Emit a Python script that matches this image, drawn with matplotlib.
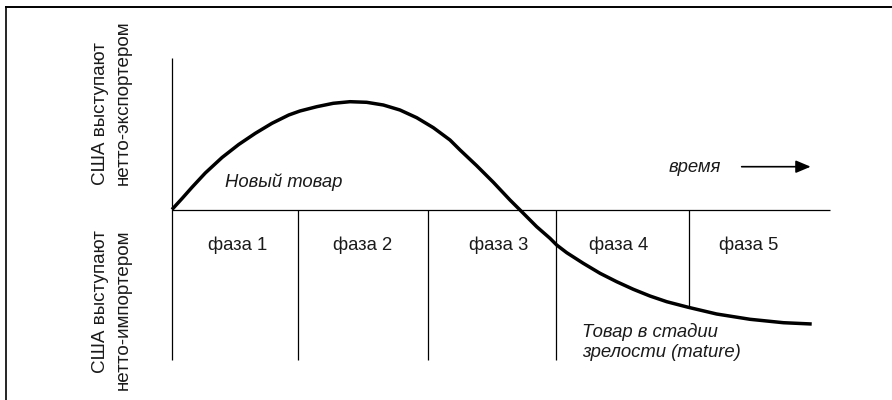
import matplotlib
matplotlib.use("Agg")
import matplotlib.pyplot as plt
from matplotlib.lines import Line2D

plt.rcParams['font.family'] = ['Liberation Sans', 'DejaVu Sans']

# Curve: net exports of the US over time (time in phase units, y in arbitrary units)
curve_x = [0.000, 0.078, 0.155, 0.258, 0.388, 0.517, 0.646, 0.775, 0.905, 0.992,
           1.122, 1.250, 1.380, 1.509, 1.638, 1.767, 1.897, 2.026, 2.155, 2.233,
           2.362, 2.491, 2.620, 2.698, 2.827, 2.930, 2.982, 3.060, 3.188, 3.318,
           3.447, 3.576, 3.705, 3.835, 4.002, 4.222, 4.481, 4.739, 4.959]
curve_y = [0.000, 0.110, 0.222, 0.365, 0.520, 0.650, 0.762, 0.862, 0.945, 0.985,
           1.028, 1.062, 1.078, 1.072, 1.045, 0.995, 0.918, 0.818, 0.695, 0.595,
           0.438, 0.272, 0.095, -0.005, -0.172, -0.288, -0.355, -0.432, -0.538, -0.638,
           -0.722, -0.798, -0.865, -0.922, -0.978, -1.045, -1.098, -1.132, -1.145]

# Phase boundaries and labels
phase_bounds = [0.977, 1.984, 2.977]
phase5_bound = 4.010
phase_labels = ["фаза 1", "фаза 2", "фаза 3", "фаза 4", "фаза 5"]
phase_label_x = [0.508, 1.481, 2.529, 3.460, 4.467]

y_top_labels = ["США выступают", "нетто-экспортером"]
y_bottom_labels = ["США выступают", "нетто-импортером"]
new_label = "Новый товар"
mature_labels = ["Товар в стадии", "зрелости (mature)"]
time_label = "время"

W, H = 892, 400
fig = plt.figure(figsize=(W / 100, H / 100), dpi=100)
ax = fig.add_axes([0, 0, 1, 1])
ax.set_xlim(-172 / 129, (W - 172) / 129)
ax.set_ylim((209.5 - H) / 100, 209.5 / 100)
ax.axis('off')

txt = '#1a1a1a'
fs = 13.3
fs_y = 13.6

# axes lines
ax.plot([0, 0], [-1.505, 1.515], color='black', lw=0.9, solid_capstyle='butt')
ax.plot([0, 5.10], [0, 0], color='black', lw=0.9, solid_capstyle='butt')
for b in phase_bounds:
    ax.plot([b, b], [0, -1.505], color='black', lw=0.9, solid_capstyle='butt')
ax.plot([phase5_bound, phase5_bound], [0, -0.978], color='black', lw=0.9,
        solid_capstyle='butt')

# curve
ax.plot(curve_x, curve_y, color='black', lw=2.5, solid_joinstyle='round',
        solid_capstyle='butt')

# phase labels
for lx, lab in zip(phase_label_x, phase_labels):
    ax.text(lx, -0.362, lab, ha='center', va='center', fontsize=fs, color=txt)

ax.text(0.411, 0.275, new_label, ha='left', va='center', fontsize=fs,
        style='italic', color=txt)
for ly, lab in zip([-1.222, -1.428], mature_labels):
    ax.text(3.176, ly, lab, ha='left', va='center', fontsize=fs,
            style='italic', color=txt)
ax.text(4.054, 0.415, time_label, ha='center', va='center', fontsize=fs,
        style='italic', color=txt)

# time arrow
ax.annotate('', xy=(4.951, 0.428), xytext=(4.416, 0.428),
            arrowprops=dict(arrowstyle='-|>,head_length=0.9,head_width=0.38',
                            color='black', lw=1.2, shrinkA=0, shrinkB=0))

# rotated y labels
line_x = [-0.558, -0.380]
for lx, lab in zip(line_x, y_top_labels):
    ax.text(lx, 0.245, lab, rotation=90, ha='center', va='bottom', fontsize=fs_y,
            color=txt)
for lx, lab in zip(line_x, y_bottom_labels):
    ax.text(lx, -0.205, lab, rotation=90, ha='center', va='top', fontsize=fs_y,
            color=txt)

# frame (top and left edges)
fig.add_artist(Line2D([5.5 / W, 1], [1 - 7 / H, 1 - 7 / H], transform=fig.transFigure,
                      color='black', lw=1.4))
fig.add_artist(Line2D([5.5 / W, 5.5 / W], [0, 1 - 7 / H], transform=fig.transFigure,
                      color='black', lw=1.2))

fig.savefig('out.png', dpi=100)
